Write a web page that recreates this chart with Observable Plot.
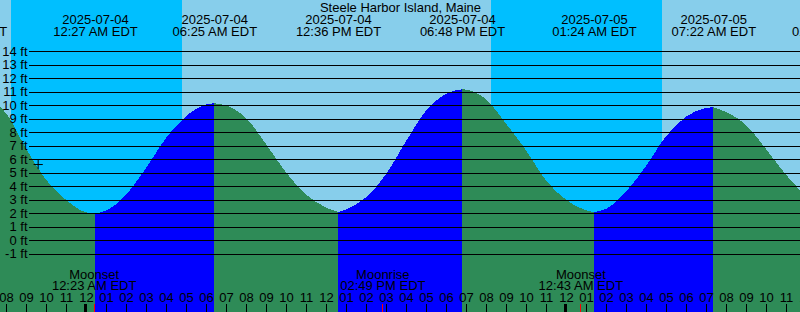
<!DOCTYPE html>
<html>
<head>
<meta charset="utf-8">
<script src="https://cdn.jsdelivr.net/npm/d3@7"></script>
<script src="https://cdn.jsdelivr.net/npm/@observablehq/plot@0.6"></script>
<style>
  html, body { margin: 0; padding: 0; background: #87CEEB; overflow: hidden; }
  svg { display: block; }
</style>
</head>
<body>
<div id="chart"></div>
<script>
// ---------- data ----------
const title = "Steele Harbor Island, Maine";

// hourly tide heights (ft), starting at this hour
const hourlyStart = "2025-07-03T19:00";
const hourlyFeet = [
  10.45, 9.41, 6.8, 4.49, 3.0,                 // Jul 3 19:00 - 23:00
  2.07, 2.2, 3.38, 5.35, 7.57, 9.19, 10.06,    // Jul 4 00:00 - 06:00
  9.99, 9.06, 7.13, 5.03, 3.39, 2.43,          // 07:00 - 12:00
  2.28, 3.19, 4.89, 7.34, 9.59, 10.85,         // 13:00 - 18:00
  11.16, 10.44, 8.64, 6.67, 4.44,              // 19:00 - 23:00
  3.01, 2.22, 2.33, 3.6, 5.5, 7.7, 9.15,       // Jul 5 00:00 - 06:00
  9.8, 9.5, 8.54, 6.76, 4.86, 3.3              // 07:00 - 12:00
];

// high / low tide events
const eventTimes = ["2025-07-03T17:54", "2025-07-04T00:27", "2025-07-04T06:25", "2025-07-04T12:36",
                    "2025-07-04T18:48", "2025-07-05T01:24", "2025-07-05T07:22", "2025-07-05T13:24"];
const eventKinds = ["high", "low", "high", "low", "high", "low", "high", "low"];
const eventFeet  = [10.7, 2.0, 10.15, 2.1, 11.19, 2.1, 9.85, 2.2];
const eventDates = ["2025-07-03", "2025-07-04", "2025-07-04", "2025-07-04",
                    "2025-07-04", "2025-07-05", "2025-07-05", "2025-07-05"];
const eventClock = ["05:54 PM EDT", "12:27 AM EDT", "06:25 AM EDT", "12:36 PM EDT",
                    "06:48 PM EDT", "01:24 AM EDT", "07:22 AM EDT", "01:24 PM EDT"];

// night (sunset -> sunrise)
const sunsets  = ["2025-07-03T20:15", "2025-07-04T20:15"];
const sunrises = ["2025-07-04T04:47", "2025-07-05T04:47"];

// moon events
const moonTimes = ["2025-07-04T00:23", "2025-07-04T14:49", "2025-07-05T00:43"];
const moonNames = ["Moonset", "Moonrise", "Moonset"];
const moonClock = ["12:23 AM EDT", "02:49 PM EDT", "12:43 AM EDT"];

// current-time mark
const markTime = "2025-07-03T21:35";
const markFeet = 5.65;

// y tick labels (ft)
const feetTicks = [-1, 0, 1, 2, 3, 4, 5, 6, 7, 8, 9, 10, 11, 12, 13, 14];

// view
const viewStart = "2025-07-03T19:42";
const viewEnd   = "2025-07-05T11:42";
const feetDomain = [-5.31, 17.8];

// ---------- build tables ----------
const parse = s => new Date(s);
const t0 = parse(hourlyStart);
const samples = hourlyFeet.map((v, i) => ({t: d3.timeHour.offset(t0, i), v, ev: false}));
const events = eventTimes.map((t, i) => ({t: parse(t), v: eventFeet[i], kind: eventKinds[i],
                                          date: eventDates[i], clock: eventClock[i]}));
const pts = [...samples, ...events.map(e => ({t: e.t, v: e.v, ev: true}))].sort((a, b) => a.t - b.t);
const rows = [];
let seg = 0;
for (const p of pts) {
  rows.push({t: p.t, v: p.v, seg});
  if (p.ev) { seg++; rows.push({t: p.t, v: p.v, seg}); }
}
const rising = k => k < events.length ? events[k].kind === "high" : events[events.length - 1].kind === "low";
const risingRows = rows.filter(d => rising(d.seg));
const fallingRows = rows.filter(d => !rising(d.seg));

const nights = sunsets.map((s, i) => ({x1: parse(s), x2: parse(sunrises[i])}));
const moons = moonTimes.map((t, i) => ({t: parse(t), name: moonNames[i], clock: moonClock[i]}));
const x0 = parse(viewStart), x1 = parse(viewEnd);
const hours = d3.timeHour.range(d3.timeHour.ceil(x0), d3.timeHour.offset(x1, 1));
const midnights = hours.filter(h => h.getHours() === 0);
const hourFmt = d3.timeFormat("%I");

const plusSymbol = {
  draw(context, size) {
    const r = Math.sqrt(size / Math.PI);
    context.moveTo(-r, 0); context.lineTo(r, 0);
    context.moveTo(0, -r); context.lineTo(0, r);
  }
};

const FS = 13;
const txt = {fontSize: FS, fill: "black", lineAnchor: "middle"};
const chart = Plot.plot({
  width: 800,
  height: 312,
  margin: 0,
  style: {fontFamily: "'Liberation Sans', Arial, sans-serif", background: "#87CEEB", overflow: "hidden"},
  x: {type: "time", domain: [x0, x1], range: [0, 800], axis: null},
  y: {domain: feetDomain, range: [312, 0], axis: null},
  marks: [
    Plot.frame({fill: "#87CEEB", stroke: null}),
    Plot.rect(nights, {x1: "x1", x2: "x2", y1: () => feetDomain[0], y2: () => feetDomain[1],
                       fill: "#00BFFF", shapeRendering: "crispEdges"}),
    Plot.areaY(fallingRows, {x: "t", y1: () => feetDomain[0], y2: "v", z: "seg",
                            fill: "#2E8B57", curve: "monotone-x", shapeRendering: "crispEdges"}),
    Plot.areaY(risingRows, {x: "t", y1: () => feetDomain[0], y2: "v", z: "seg",
                           fill: "#0000FF", curve: "monotone-x", shapeRendering: "crispEdges"}),
    Plot.ruleY(feetTicks, {y: d => d, insetLeft: 29, stroke: "black", shapeRendering: "crispEdges"}),
    Plot.dot([0], {x: () => parse(markTime), y: () => markFeet, symbol: plusSymbol, r: 4.6,
                   stroke: "black", fill: "none", strokeWidth: 1}),
    Plot.text(feetTicks, {...txt, y: d => d, frameAnchor: "left", dx: 27, textAnchor: "end",
                          text: d => `${d} ft`}),
    Plot.text([title], {...txt, frameAnchor: "top", dy: 7.3, text: d => d}),
    Plot.text(events, {...txt, x: "t", frameAnchor: "top", dy: 19.3, text: "date"}),
    Plot.text(events, {...txt, x: "t", frameAnchor: "top", dy: 31.7, text: "clock"}),
    Plot.text(moons, {...txt, x: "t", frameAnchor: "bottom", dy: -38, text: "name"}),
    Plot.text(moons, {...txt, x: "t", frameAnchor: "bottom", dy: -27, text: "clock"}),
    Plot.text(hours, {...txt, x: d => d, frameAnchor: "bottom", dy: -14.7, text: d => hourFmt(d)}),
    Plot.ruleX(hours, {x: d => d, insetTop: 304, stroke: "black", shapeRendering: "crispEdges"}),
    Plot.ruleX(midnights, {x: d => d, insetTop: 304, stroke: "black", strokeWidth: 3, dx: -1, shapeRendering: "crispEdges"}),
    Plot.ruleX(moons, {x: "t", insetTop: 304, stroke: "red", shapeRendering: "crispEdges"})
  ]
});
document.getElementById("chart").append(chart);
</script>
</body>
</html>
